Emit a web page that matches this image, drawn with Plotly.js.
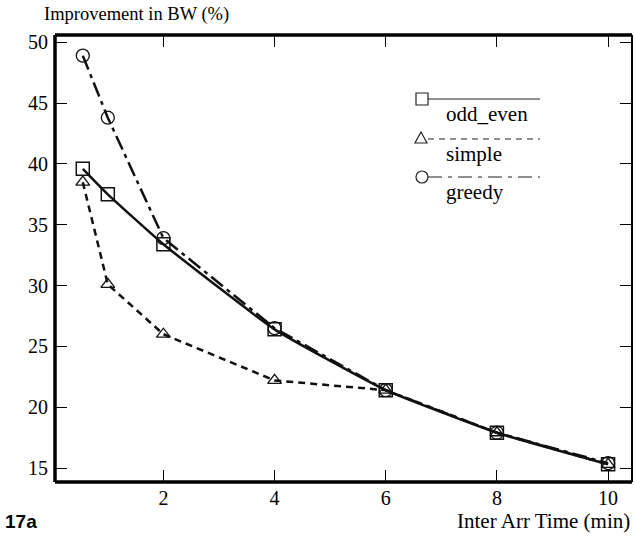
<!DOCTYPE html>
<html><head><meta charset="utf-8">
<script src="https://cdn.plot.ly/plotly-3.0.1.min.js"></script>
<style>body{margin:0;background:#fff}#c{width:635px;height:537px}</style>
</head><body><div id="c"></div>
<script>
var xVals = [0.55, 1, 2, 4, 6, 8, 10];
var oddEven = [39.6, 37.5, 33.4, 26.4, 21.4, 17.9, 15.3];
var simple = [38.5, 30.1, 26.0, 22.2, 21.4, 17.9, 15.3];
var greedy = [48.9, 43.8, 33.9, 26.5, 21.4, 17.9, 15.4];
var xTicks = [2, 4, 6, 8, 10];
var yTicks = [15, 20, 25, 30, 35, 40, 45, 50];
var seriesNames = ['odd_even', 'simple', 'greedy'];

var serif = "'Liberation Serif', 'Times New Roman', serif";
var traces = [
  {x: xVals, y: greedy, name: seriesNames[2], mode: 'lines+markers',
   line: {color: '#111', width: 2.5, dash: '15px,5px,4px,5px'},
   marker: {symbol: 'circle-open', size: 13, color: '#111', line: {width: 1.3}}},
  {x: xVals, y: simple, name: seriesNames[1], mode: 'lines+markers',
   line: {color: '#111', width: 2.5, dash: '7px,5px'},
   marker: {symbol: 'triangle-up-open', size: 12, color: '#111', line: {width: 1.3}}},
  {x: xVals, y: oddEven, name: seriesNames[0], mode: 'lines+markers',
   line: {color: '#111', width: 2.5, shape: 'spline', smoothing: 0.4},
   marker: {symbol: 'square-open', size: 13, color: '#111', line: {width: 1.5}}}
];

var shapes = [
  {type: 'line', xref: 'paper', yref: 'paper', x0: 0, x1: 0, y0: 0, y1: 1, line: {color: '#000', width: 3.5}},
  {type: 'line', xref: 'paper', yref: 'paper', x0: 0, x1: 1, y0: 0, y1: 0, line: {color: '#000', width: 3.5}},
  {type: 'line', xref: 'paper', yref: 'paper', x0: 0, x1: 1, y0: 1, y1: 1, line: {color: '#000', width: 3.5}},
  {type: 'line', xref: 'paper', yref: 'paper', x0: 1, x1: 1, y0: 0, y1: 1, line: {color: '#000', width: 2}}
];
var L = 55, T = 35, W = 577, H = 447;
function px(x) { return (x - L) / W; }
function py(y) { return 1 - (y - T) / H; }
var legendRows = [
  {y: 99, dash: 'solid', sym: 'square'},
  {y: 139, dash: '6px,5px', sym: 'triangle'},
  {y: 177, dash: '14px,6px,4px,6px', sym: 'circle'}
];
var annotations = [];
legendRows.forEach(function (r, i) {
  shapes.push({type: 'line', xref: 'paper', yref: 'paper', x0: px(428), x1: px(540), y0: py(r.y), y1: py(r.y),
    line: {color: '#222', width: 1.2, dash: r.dash}});
  var s = 6;
  if (r.sym === 'square') {
    shapes.push({type: 'rect', xref: 'paper', yref: 'paper', x0: px(422 - s), x1: px(422 + s), y0: py(r.y - s), y1: py(r.y + s),
      line: {color: '#222', width: 1.2}, fillcolor: 'rgba(0,0,0,0)'});
  } else if (r.sym === 'circle') {
    shapes.push({type: 'circle', xref: 'paper', yref: 'paper', x0: px(422 - s), x1: px(422 + s), y0: py(r.y - s), y1: py(r.y + s),
      line: {color: '#222', width: 1.2}, fillcolor: '#fff'});
  } else {
    shapes.push({type: 'path', xref: 'paper', yref: 'paper',
      path: 'M ' + px(421) + ' ' + py(r.y - 7) + ' L ' + px(427) + ' ' + py(r.y + 4) + ' L ' + px(415) + ' ' + py(r.y + 4) + ' Z',
      line: {color: '#222', width: 1.2}, fillcolor: '#fff'});
  }
  annotations.push({xref: 'paper', yref: 'paper', x: px(444), y: py(r.y + 15), xanchor: 'left', yanchor: 'middle',
    text: seriesNames[i], showarrow: false, font: {family: serif, size: 21, color: '#000'}});
});
annotations.push({xref: 'paper', yref: 'paper', x: px(42), y: py(15), xanchor: 'left', yanchor: 'middle',
  text: 'Improvement in BW (%)', showarrow: false, font: {family: serif, size: 18.5, color: '#000'}});
annotations.push({xref: 'paper', yref: 'paper', x: px(632), y: py(521), xanchor: 'right', yanchor: 'middle',
  text: 'Inter Arr Time (min)', showarrow: false, font: {family: serif, size: 21, color: '#000'}});
annotations.push({xref: 'paper', yref: 'paper', x: px(3), y: py(521), xanchor: 'left', yanchor: 'middle',
  text: '<b>17a</b>', showarrow: false, font: {family: "'Liberation Sans', Arial, sans-serif", size: 19, color: '#000'}});

var layout = {
  width: 635, height: 537,
  margin: {l: L, r: 635 - L - W, t: T, b: 537 - T - H},
  paper_bgcolor: '#fff', plot_bgcolor: '#fff',
  showlegend: false,
  xaxis: {range: [0.05, 10.43], tickvals: xTicks, ticktext: xTicks.map(String), ticks: 'inside', ticklen: 12,
    tickwidth: 1, tickcolor: '#000', mirror: 'ticks', showline: false, showgrid: false, zeroline: false,
    ticklabelstandoff: 2,
    tickfont: {family: serif, size: 20, color: '#000'}},
  yaxis: {range: [13.85, 50.6], tickvals: yTicks, ticktext: yTicks.map(String), ticks: 'inside', ticklen: 12,
    tickwidth: 1, tickcolor: '#000', mirror: 'ticks', showline: false, showgrid: false, zeroline: false,
    ticklabelstandoff: 6,
    tickfont: {family: serif, size: 20, color: '#000'}},
  shapes: shapes,
  annotations: annotations
};
Plotly.newPlot('c', traces, layout, {staticPlot: true});
</script></body></html>
